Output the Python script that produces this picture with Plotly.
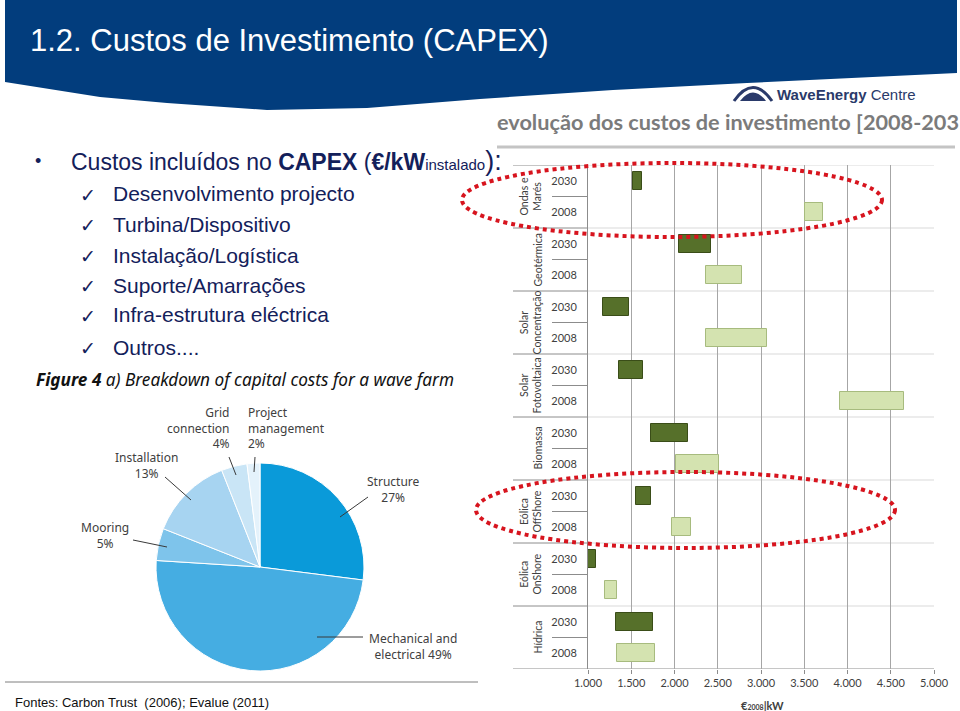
import plotly.graph_objects as go

W, H = 960, 711

def X(px):
    return px / W

def Y(py):
    return 1 - py / H

# ---------------- data ----------------
bar_categories = ["Ondas e<br>Marés", "Geotérmica", "Solar<br>Concentração", "Solar<br>Fotovoltaica",
                  "Biomassa", "Eólica<br>OffShore", "Eólica<br>OnShore", "Hídrica"]
years = ["2030", "2008"]
min_2030 = [1515, 2050, 1170, 1360, 1730, 1550, 1000, 1320]
max_2030 = [1630, 2420, 1470, 1640, 2160, 1730, 1090, 1750]
min_2008 = [3505, 2365, 2365, 3910, 2015, 1975, 1200, 1340]
max_2008 = [3715, 2780, 3075, 4650, 2510, 2190, 1340, 1775]
x_ticks = [1000, 1500, 2000, 2500, 3000, 3500, 4000, 4500, 5000]
x_ticktext = ["1.000", "1.500", "2.000", "2.500", "3.000", "3.500", "4.000", "4.500", "5.000"]

pie_labels = ["Structure", "Mechanical and electrical", "Mooring", "Installation",
              "Grid connection", "Project management"]
pie_values = [27, 49, 5, 13, 4, 2]
pie_colors = ["#0a9ad9", "#45ade2", "#7ec4eb", "#a7d4f1", "#c9e5f6", "#e4f2fb"]

bullet_items = ["Desenvolvimento projecto", "Turbina/Dispositivo", "Instalação/Logística",
                "Suporte/Amarrações", "Infra-estrutura eléctrica", "Outros...."]

NAVY = "#13205a"
GRAY_TXT = "#404040"
DARK_G = "#56702a"
LIGHT_G = "#d4e3b0"

# rows: each category -> 2030 then 2008
n_cat = len(bar_categories)
rows_2030 = [2 * i for i in range(n_cat)]
rows_2008 = [2 * i + 1 for i in range(n_cat)]
row_text = [years[r % 2] for r in range(2 * n_cat)]

fig = go.Figure()

fig.add_trace(go.Bar(
    orientation="h", y=rows_2030, base=min_2030,
    x=[b - a for a, b in zip(min_2030, max_2030)],
    width=0.56, marker=dict(color=DARK_G, line=dict(color="#3a4d18", width=1)),
    xaxis="x", yaxis="y", showlegend=False, hoverinfo="skip"))
fig.add_trace(go.Bar(
    orientation="h", y=rows_2008, base=min_2008,
    x=[b - a for a, b in zip(min_2008, max_2008)],
    width=0.56, marker=dict(color=LIGHT_G, line=dict(color="#a7bb7e", width=1)),
    xaxis="x", yaxis="y", showlegend=False, hoverinfo="skip"))

fig.add_trace(go.Pie(
    labels=pie_labels, values=pie_values, sort=False, direction="clockwise", rotation=0,
    marker=dict(colors=pie_colors, line=dict(color="white", width=1)),
    textinfo="none", hoverinfo="skip", showlegend=False,
    domain=dict(x=[X(156), X(364)], y=[Y(671), Y(463)])))

shapes = []
annotations = []

# header band
pts = [(5, 82), (100, 97), (167, 103), (267, 110), (367, 108), (480, 99),
       (613, 90), (747, 83), (957, 73)]
path = f"M {X(5)},{Y(0)} L {X(957)},{Y(0)} "
for px_, py_ in reversed(pts):
    path += f"L {X(px_)},{Y(py_)} "
path += "Z"
shapes.append(dict(type="path", xref="paper", yref="paper", path=path,
                   fillcolor="#023d7d", line=dict(width=0), layer="below"))
annotations.append(dict(text="1.2. Custos de Investimento (CAPEX)", x=X(28), y=Y(40),
                        xref="paper", yref="paper", xanchor="left", yanchor="middle",
                        showarrow=False,
                        font=dict(family="Liberation Sans", size=31, color="white")))

# logo
shapes.append(dict(type="path", xref="paper", yref="paper",
                   path=f"M {X(734)},{Y(101)} Q {X(753)},{Y(74)} {X(772)},{Y(101)}",
                   line=dict(color="#2a3a6a", width=3)))
shapes.append(dict(type="path", xref="paper", yref="paper",
                   path=f"M {X(740)},{Y(101)} Q {X(753)},{Y(84)} {X(766)},{Y(101)} Z",
                   fillcolor="#2a3a6a", line=dict(width=0)))
annotations.append(dict(text="<b>WaveEnergy</b> Centre", x=X(775), y=Y(95),
                        xref="paper", yref="paper", xanchor="left", yanchor="middle",
                        showarrow=False, font=dict(family="Liberation Sans", size=15, color="#2a3a6a")))

# bullet text
annotations.append(dict(text="•", x=X(38), y=Y(161), xref="paper", yref="paper",
                        xanchor="center", yanchor="middle", showarrow=False,
                        font=dict(family="Liberation Sans", size=18, color=NAVY)))
annotations.append(dict(text="Custos incluídos no <b>CAPEX</b> (<b>€/kW</b><span style='font-size:15px'>instalado</span><span style='font-size:27px'>):</span>",
                        x=X(69), y=Y(161), xref="paper", yref="paper", xanchor="left", yanchor="middle",
                        showarrow=False, font=dict(family="Liberation Sans", size=23, color=NAVY)))
item_y = [194, 224, 255, 285, 315, 347]
for txt, yy in zip(bullet_items, item_y):
    annotations.append(dict(text="✓", x=X(88), y=Y(yy + 1), xref="paper", yref="paper",
                            xanchor="center", yanchor="middle", showarrow=False,
                            font=dict(family="DejaVu Sans", size=19, color=NAVY)))
    annotations.append(dict(text=txt, x=X(111), y=Y(yy), xref="paper", yref="paper",
                            xanchor="left", yanchor="middle", showarrow=False,
                            font=dict(family="Liberation Sans", size=21, color=NAVY)))

# bar chart title
annotations.append(dict(text="<b>evolução dos custos de investimento [2008-203</b>", x=X(495), y=Y(122),
                        xref="paper", yref="paper", xanchor="left", yanchor="middle", showarrow=False,
                        font=dict(family="Lato, Open Sans", size=21.7, color="#7b7b7b")))
shapes.append(dict(type="line", xref="paper", yref="paper", x0=X(497), x1=X(955), y0=Y(147), y1=Y(147),
                   line=dict(color="#c4c4c4", width=3)))

# category frame lines
x_lab_left = X(513)
x_year_left = X(552)
x_axis_left = X(588)
x_axis_right = X(934)
for i in range(n_cat + 1):
    b = 2 * i - 0.5
    shapes.append(dict(type="line", xref="paper", yref="y", x0=x_lab_left, x1=x_axis_left, y0=b, y1=b,
                       line=dict(color="#8c8c8c", width=1)))
    shapes.append(dict(type="line", xref="paper", yref="y", x0=x_axis_left, x1=x_axis_right, y0=b, y1=b,
                       line=dict(color="#d9d9d9" if i < n_cat else "#8c8c8c", width=1), layer="below"))
for i in range(n_cat):
    b = 2 * i + 0.5
    shapes.append(dict(type="line", xref="paper", yref="y", x0=x_year_left, x1=x_axis_left, y0=b, y1=b,
                       line=dict(color="#8c8c8c", width=1)))
    annotations.append(dict(text=bar_categories[i], x=X(545), y=2 * i + 0.5, xref="paper", yref="y",
                            xanchor="right", yanchor="middle", textangle=-90, showarrow=False,
                            font=dict(family="Lato, Open Sans", size=10.5, color=GRAY_TXT)))

# red dotted ellipses
for (x0, x1, y0, y1) in [(462, 882, 163, 237), (476, 895, 472, 548)]:
    shapes.append(dict(type="circle", xref="paper", yref="paper", x0=X(x0), x1=X(x1), y0=Y(y1), y1=Y(y0),
                       line=dict(color="#d7141e", width=4, dash="dot")))

# x axis title
annotations.append(dict(text="<b>€<span style='font-size:7px'>2008</span>|kW</b>", x=X(762), y=Y(705),
                        xref="paper", yref="paper", xanchor="center", yanchor="middle", showarrow=False,
                        font=dict(family="Lato, Open Sans", size=11, color=GRAY_TXT)))

# pie title
annotations.append(dict(text="<b><i>Figure 4</i></b><i> a) Breakdown of capital costs for a wave farm</i>",
                        x=X(245), y=Y(380), xref="paper", yref="paper", xanchor="center", yanchor="middle",
                        showarrow=False, font=dict(family="Noto Sans", size=17.2, color="#111111")))

# pie labels
pie_text = [
    ("Structure<br>27%", 393, 489, "center", "center"),
    ("Mechanical and<br>electrical 49%", 413, 646, "center", "center"),
    ("Mooring<br>5%", 105, 535, "center", "center"),
    ("Installation<br>13%", 146, 465, "center", "center"),
    ("Grid<br>connection<br>4%", 232, 428, "right", "right"),
    ("Project<br>management<br>2%", 246, 428, "left", "left"),
]
for txt, px_, py_, anc, al in pie_text:
    annotations.append(dict(text=txt, x=X(px_), y=Y(py_), xref="paper", yref="paper",
                            xanchor=anc, yanchor="middle", align=al, showarrow=False,
                            font=dict(family="Noto Sans", size=12, color=GRAY_TXT)))
leaders = [(368, 497, 340, 517), (363, 637, 317, 637), (133, 540, 167, 547),
           (165, 477, 191, 500), (229, 457, 236, 475), (255, 457, 254, 472)]
for x0, y0, x1, y1 in leaders:
    shapes.append(dict(type="line", xref="paper", yref="paper", x0=X(x0), y0=Y(y0), x1=X(x1), y1=Y(y1),
                       line=dict(color="#3a3a3a", width=1)))

# footer
shapes.append(dict(type="line", xref="paper", yref="paper", x0=X(5), x1=X(478), y0=Y(682), y1=Y(682),
                   line=dict(color="#7f7f7f", width=1)))
annotations.append(dict(text="Fontes: Carbon Trust  (2006); Evalue (2011)", x=X(13), y=Y(702),
                        xref="paper", yref="paper", xanchor="left", yanchor="middle", showarrow=False,
                        font=dict(family="Liberation Sans", size=13, color="#111111")))

fig.update_layout(
    width=W, height=H, margin=dict(l=0, r=0, t=0, b=0, autoexpand=False),
    paper_bgcolor="white", plot_bgcolor="white", bargap=0,
    xaxis=dict(domain=[X(588), X(934)], range=[1000, 5000], tickvals=x_ticks, ticktext=x_ticktext,
               automargin=False,
               showgrid=True, gridcolor="#a6a6a6", gridwidth=1, zeroline=False, showline=False,
               ticks="outside", ticklen=4, tickcolor="#8c8c8c",
               tickfont=dict(family="Lato, Open Sans", size=11, color=GRAY_TXT), fixedrange=True),
    yaxis=dict(domain=[Y(669), Y(165)], range=[2 * n_cat - 0.5, -0.5],
               tickvals=list(range(2 * n_cat)), ticktext=row_text, automargin=False,
               showgrid=False, zeroline=False, showline=True, linecolor="#8c8c8c", linewidth=1,
               ticks="", ticklabelstandoff=8,
               tickfont=dict(family="Lato, Open Sans", size=11, color=GRAY_TXT), fixedrange=True),
    shapes=shapes, annotations=annotations,
)

fig.write_html("out.html")
